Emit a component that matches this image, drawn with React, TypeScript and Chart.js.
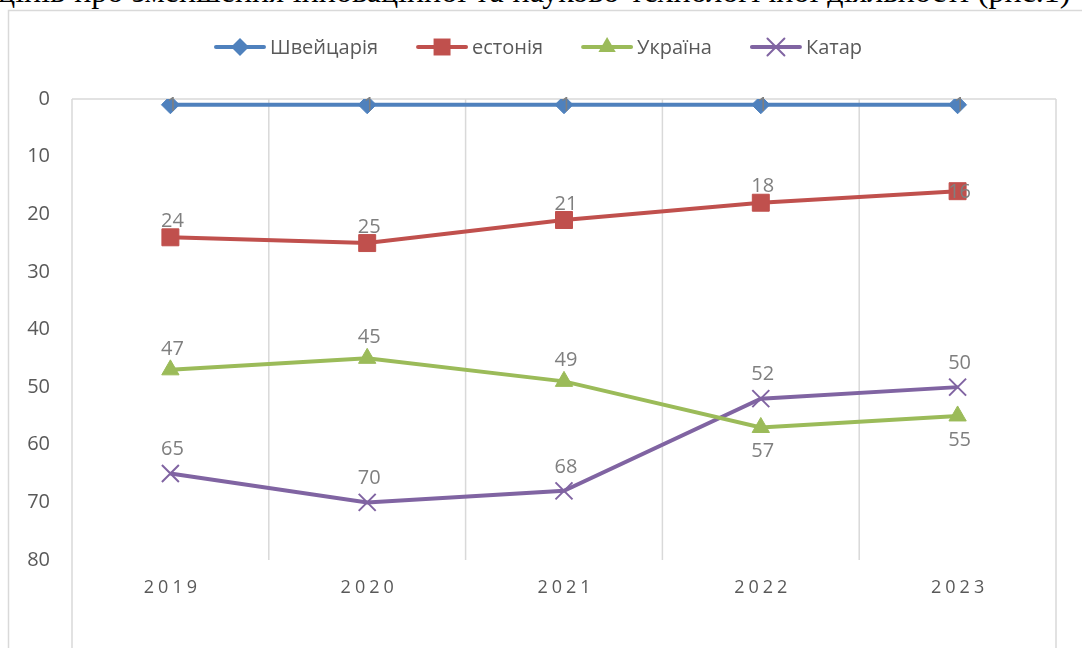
import React, { useEffect, useRef } from "react";
import { Chart, registerables } from "chart.js";

Chart.register(...registerables);

// ---- data ----
const years = ["2019", "2020", "2021", "2022", "2023"];
const seriesNames = ["Швейцарія", "естонія", "Україна", "Катар"];
const switzerland = [1, 1, 1, 1, 1];
const estonia = [24, 25, 21, 18, 16];
const ukraine = [47, 45, 49, 57, 55];
const qatar = [65, 70, 68, 52, 50];
const yMin = 0;
const yMax = 80;
const yStep = 10;
const caption =
  "цінів про зменшення  інноваційної та науково-технологічної діяльності (рис.1)";

// ---- styles ----
const FONT = '"Open Sans", "Noto Sans", sans-serif';
const colors = ["#4F81BD", "#C0504D", "#9BBB59", "#8064A2"];
const markerStyles = ["rectRot", "rect", "triangle", "crossRot"];
const markerRadius = [9, 12, 10, 12];
const labelPos: string[][] = [
  ["center", "center", "center", "center", "center"],
  ["above", "above", "above", "above", "center"],
  ["above", "above", "above", "below", "below"],
  ["above", "above", "above", "above", "above"],
];
const aboveOffset = [0, 17, 22, 25];
const belowOffset = [0, 23, 23, 23];

function drawMarker(ctx: CanvasRenderingContext2D, style: string, x: number, y: number, r: number, color: string) {
  ctx.save();
  ctx.fillStyle = color;
  ctx.strokeStyle = color;
  ctx.beginPath();
  if (style === "rectRot") {
    ctx.moveTo(x, y - r);
    ctx.lineTo(x + r, y);
    ctx.lineTo(x, y + r);
    ctx.lineTo(x - r, y);
    ctx.closePath();
    ctx.fill();
  } else if (style === "rect") {
    const s = r * Math.SQRT1_2;
    ctx.rect(x - s, y - s, 2 * s, 2 * s);
    ctx.fill();
  } else if (style === "triangle") {
    ctx.moveTo(x, y - r);
    ctx.lineTo(x + r * 0.866, y + r * 0.5);
    ctx.lineTo(x - r * 0.866, y + r * 0.5);
    ctx.closePath();
    ctx.fill();
  } else {
    const s = r * Math.SQRT1_2;
    ctx.lineWidth = 2;
    ctx.moveTo(x - s, y - s);
    ctx.lineTo(x + s, y + s);
    ctx.moveTo(x + s, y - s);
    ctx.lineTo(x - s, y + s);
    ctx.stroke();
  }
  ctx.restore();
}

const gridPlugin = {
  id: "gridFrame",
  beforeDatasetsDraw(chart: any) {
    const { ctx, chartArea: a, scales } = chart;
    const xs = scales.x;
    ctx.save();
    ctx.strokeStyle = "#d9d9d9";
    ctx.lineWidth = 1.5;
    // outer frame
    ctx.beginPath();
    ctx.moveTo(8.5, chart.height);
    ctx.lineTo(8.5, 10.5);
    ctx.lineTo(chart.width, 10.5);
    ctx.stroke();
    // top line at 0
    ctx.beginPath();
    ctx.moveTo(a.left, a.top);
    ctx.lineTo(a.right, a.top);
    ctx.stroke();
    const n = years.length;
    for (let i = 0; i <= n; i++) {
      let px: number;
      let bottom = a.bottom;
      if (i === 0) {
        px = a.left;
        bottom = chart.height;
      } else if (i === n) {
        px = a.right;
        bottom = chart.height;
      } else {
        px = (xs.getPixelForValue(i - 1) + xs.getPixelForValue(i)) / 2;
      }
      ctx.beginPath();
      ctx.moveTo(px, a.top);
      ctx.lineTo(px, bottom);
      ctx.stroke();
    }
    ctx.restore();
  },
  afterDatasetsDraw(chart: any) {
    const { ctx } = chart;
    ctx.save();
    ctx.font = `20px ${FONT}`;
    ctx.fillStyle = "#7f7f7f";
    ctx.textAlign = "center";
    ctx.textBaseline = "middle";
    chart.data.datasets.forEach((ds: any, di: number) => {
      const meta = chart.getDatasetMeta(di);
      meta.data.forEach((pt: any, i: number) => {
        const pos = labelPos[di][i];
        let y = pt.y + 1;
        if (pos === "above") y -= aboveOffset[di];
        else if (pos === "below") y += belowOffset[di];
        ctx.fillText(String(ds.data[i]), pt.x + 2, y);
      });
    });
    ctx.restore();
  },
  afterDraw(chart: any) {
    const { ctx, scales } = chart;
    const xs = scales.x;
    ctx.save();
    // x labels
    ctx.font = `18px ${FONT}`;
    ctx.fillStyle = "#595959";
    ctx.textAlign = "center";
    ctx.textBaseline = "middle";
    (ctx as any).letterSpacing = "4px";
    years.forEach((yv, i) => {
      ctx.fillText(yv, xs.getPixelForValue(i) + 2, 588);
    });
    (ctx as any).letterSpacing = "0px";
    // legend
    ctx.font = `20px ${FONT}`;
    ctx.textAlign = "left";
    const lineLen = 52;
    const gapText = 4;
    const gapItem = 38;
    const widths = seriesNames.map((s) => ctx.measureText(s).width);
    const total =
      widths.reduce((s, w) => s + w + lineLen + gapText, 0) + gapItem * (seriesNames.length - 1);
    let x = 538 - total / 2;
    const ly = 47;
    seriesNames.forEach((name, i) => {
      ctx.strokeStyle = colors[i];
      ctx.lineWidth = 4;
      ctx.lineCap = "round";
      ctx.beginPath();
      ctx.moveTo(x + 2, ly);
      ctx.lineTo(x + lineLen - 2, ly);
      ctx.stroke();
      drawMarker(ctx, markerStyles[i], x + lineLen / 2, ly, markerRadius[i], colors[i]);
      ctx.fillStyle = "#595959";
      ctx.fillText(name, x + lineLen + gapText, ly + 1);
      x += lineLen + gapText + widths[i] + gapItem;
    });
    ctx.restore();
  },
};

export default function App() {
  const ref = useRef<HTMLCanvasElement>(null);
  useEffect(() => {
    const seriesData = [switzerland, estonia, ukraine, qatar];
    const chart = new Chart(ref.current as HTMLCanvasElement, {
      type: "line",
      data: {
        labels: years,
        datasets: seriesData.map((d, i) => ({
          label: seriesNames[i],
          data: d,
          borderColor: colors[i],
          backgroundColor: colors[i],
          borderWidth: 4,
          pointStyle: markerStyles[i] as any,
          pointRadius: markerRadius[i],
          pointBackgroundColor: colors[i],
          pointBorderColor: colors[i],
          pointBorderWidth: i === 3 ? 2 : 1,
          tension: 0,
          fill: false,
        })),
      },
      options: {
        responsive: false,
        animation: false,
        devicePixelRatio: 1,
        layout: { padding: { left: 8, top: 99, right: 26, bottom: 0 } },
        plugins: {
          legend: { display: false },
          tooltip: { enabled: false },
          title: { display: false },
        },
        scales: {
          x: {
            type: "category",
            offset: true,
            grid: { display: false, drawTicks: false },
            border: { display: false },
            ticks: { display: false },
            afterFit: (s: any) => {
              s.height = 88;
            },
          },
          y: {
            reverse: true,
            min: yMin,
            max: yMax,
            grid: { display: false, drawTicks: false },
            border: { display: false },
            ticks: {
              stepSize: yStep,
              padding: 22,
              color: "#595959",
              font: { family: FONT, size: 20 },
            },
            afterFit: (s: any) => {
              s.width = 64;
            },
          },
        },
      },
      plugins: [gridPlugin],
    });
    return () => chart.destroy();
  }, []);

  return (
    <div
      style={{
        position: "fixed",
        left: 0,
        top: 0,
        width: 1082,
        height: 648,
        overflow: "hidden",
        background: "#fff",
      }}
    >
      <div
        style={{
          position: "absolute",
          left: -2,
          top: -25,
          width: 1082,
          whiteSpace: "nowrap",
          fontFamily: '"Liberation Serif", "Times New Roman", serif',
          fontSize: 32,
          lineHeight: "32px",
          wordSpacing: 1,
          color: "#000",
        }}
      >
        {caption}
      </div>
      <canvas
        ref={ref}
        width={1082}
        height={648}
        style={{ position: "absolute", left: 0, top: 0, width: 1082, height: 648 }}
      />
    </div>
  );
}
